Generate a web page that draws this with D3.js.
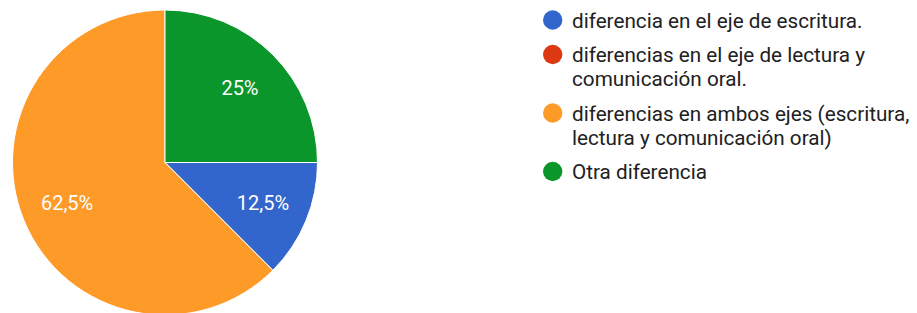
<!DOCTYPE html>
<html>
<head>
<meta charset="utf-8">
<script src="https://cdn.jsdelivr.net/npm/d3@7"></script>
<style>
  body { margin: 0; background: #fff; }
  svg { display: block; }
</style>
</head>
<body>
<svg id="chart" width="917" height="313"></svg>
<script>
const categories = [
    "diferencia en el eje de escritura.",
    "diferencias en el eje de lectura y comunicación oral.",
    "diferencias en ambos ejes (escritura, lectura y comunicación oral)",
    "Otra diferencia"
]
const values = [12.5, 0, 62.5, 25]
const colors = ["#3366cc", "#dc3912", "#fe9a28", "#0b962c"]

const config = {
    cx: 165, cy: 162.5, radius: 152.5, labelRadius: 106,
    legendX: 552.7, legendTextX: 572, legendTop: 27.5,
    lineHeight: 24, itemGap: 34.5, wrapWidth: 345,
    font: "Roboto, 'Noto Sans', Arial, sans-serif"
}

const data = categories.map((c, i) => ({name: c, value: values[i], color: colors[i]}))

const svg = d3.select("#chart")

const pie = d3.pie()
    .sort(null)
    .value(d => d.value)
    .startAngle(Math.PI / 2)
    .endAngle(Math.PI / 2 + 2 * Math.PI)

const arc = d3.arc().innerRadius(0).outerRadius(config.radius)
const labelArc = d3.arc().innerRadius(config.labelRadius).outerRadius(config.labelRadius)

const g = svg.append("g")
    .attr("transform", `translate(${config.cx},${config.cy})`)

const arcs = pie(data).filter(d => d.data.value > 0)

g.selectAll("path")
    .data(arcs)
    .join("path")
    .attr("d", arc)
    .attr("fill", d => d.data.color)
    .attr("stroke", "#fff")
    .attr("stroke-width", 1)

const fmt = v => String(v).replace(".", ",") + "%"

g.selectAll("text")
    .data(arcs)
    .join("text")
    .attr("transform", d => `translate(${labelArc.centroid(d)})`)
    .attr("text-anchor", "middle")
    .attr("dy", "0.35em")
    .attr("fill", "#fff")
    .attr("font-family", config.font)
    .attr("font-size", "20px")
    .text(d => fmt(d.data.value))

// Legend, wrapping long labels
const legend = svg.append("g")
let y = config.legendTop
data.forEach(d => {
    const item = legend.append("g")
    item.append("circle")
        .attr("cx", config.legendX)
        .attr("cy", y - 7.5)
        .attr("r", 9.7)
        .attr("fill", d.color)

    const text = item.append("text")
        .attr("font-family", config.font)
        .attr("font-size", "20.7px")
        .attr("fill", "#212121")
    const words = d.name.split(" ")
    let line = []
    let tspan = text.append("tspan").attr("x", config.legendTextX).attr("y", y)
    let lines = 1
    words.forEach(w => {
        line.push(w)
        tspan.text(line.join(" "))
        if (tspan.node().getComputedTextLength() > config.wrapWidth && line.length > 1) {
            line.pop()
            tspan.text(line.join(" "))
            line = [w]
            tspan = text.append("tspan")
                .attr("x", config.legendTextX)
                .attr("y", y + lines * config.lineHeight)
                .text(w)
            lines++
        }
    })
    y += (lines - 1) * config.lineHeight + config.itemGap
})
</script>
</body>
</html>
